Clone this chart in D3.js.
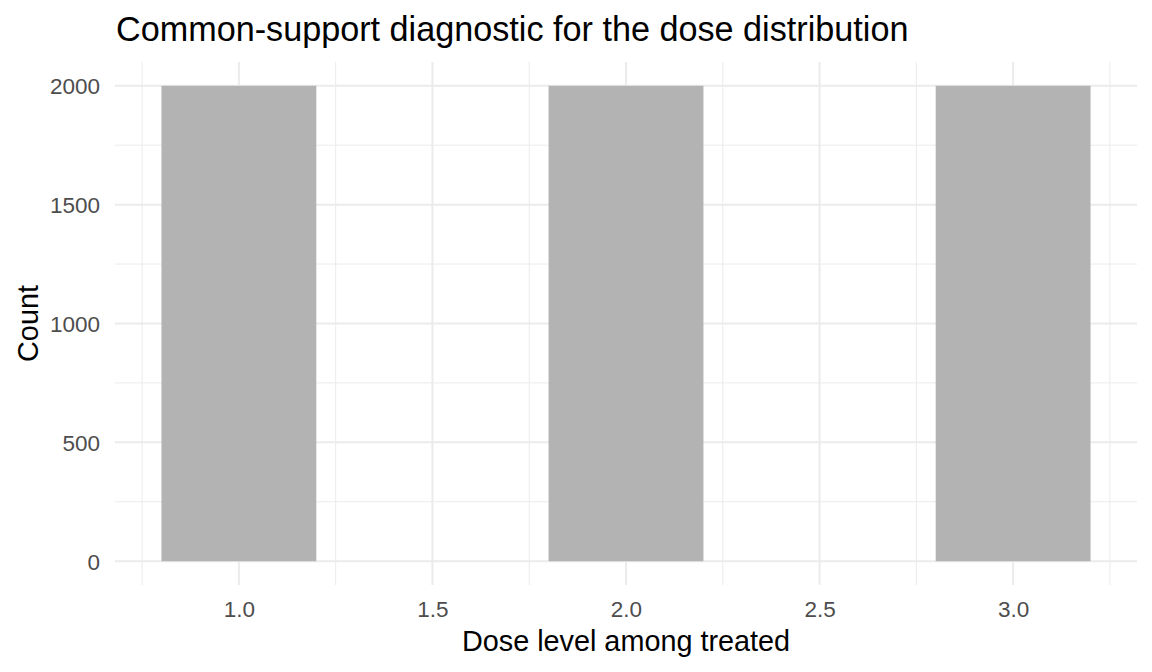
<!DOCTYPE html>
<html><head><meta charset="utf-8">
<script src="https://cdn.jsdelivr.net/npm/d3@7"></script>
<style>body{margin:0;background:#fff}svg{display:block}text{font-family:"Liberation Sans",Arial,sans-serif}</style>
</head><body>
<script>
const doseLevels = [1, 2, 3];
const counts = [2000, 2000, 2000];
const binWidth = 0.4;
const xTicks = [1.0, 1.5, 2.0, 2.5, 3.0];
const xMinor = [0.75, 1.25, 1.75, 2.25, 2.75, 3.25];
const yTicks = [0, 500, 1000, 1500, 2000];
const yMinor = [250, 750, 1250, 1750];

const W = 1152, H = 672;
const m = {left: 115, right: 15, top: 62, bottom: 87};
const svg = d3.select("body").append("svg").attr("width", W).attr("height", H);

const xmin = d3.min(doseLevels) - binWidth/2, xmax = d3.max(doseLevels) + binWidth/2;
const xpad = (xmax - xmin) * 0.05;
const x = d3.scaleLinear().domain([xmin - xpad, xmax + xpad]).range([m.left, W - m.right]);
const ymax = d3.max(counts);
const y = d3.scaleLinear().domain([-ymax*0.05, ymax*1.05]).range([H - m.bottom, m.top]);

const g = svg.append("g");
// minor grid
g.selectAll(".xm").data(xMinor).join("line")
  .attr("x1", d => x(d)).attr("x2", d => x(d)).attr("y1", m.top).attr("y2", H - m.bottom)
  .attr("stroke", "#ebebeb").attr("stroke-width", 1);
g.selectAll(".ym").data(yMinor).join("line")
  .attr("y1", d => y(d)).attr("y2", d => y(d)).attr("x1", m.left).attr("x2", W - m.right)
  .attr("stroke", "#ebebeb").attr("stroke-width", 1);
// major grid
g.selectAll(".xM").data(xTicks).join("line")
  .attr("x1", d => x(d)).attr("x2", d => x(d)).attr("y1", m.top).attr("y2", H - m.bottom)
  .attr("stroke", "#ebebeb").attr("stroke-width", 2);
g.selectAll(".yM").data(yTicks).join("line")
  .attr("y1", d => y(d)).attr("y2", d => y(d)).attr("x1", m.left).attr("x2", W - m.right)
  .attr("stroke", "#ebebeb").attr("stroke-width", 2);

// bars
svg.selectAll(".bar").data(doseLevels).join("rect")
  .attr("x", d => x(d - binWidth/2))
  .attr("width", d => x(d + binWidth/2) - x(d - binWidth/2))
  .attr("y", (d, i) => y(counts[i]))
  .attr("height", (d, i) => y(0) - y(counts[i]))
  .attr("fill", "#b3b3b3");

// axes
const xAxis = svg.append("g").attr("transform", `translate(0,${H - m.bottom})`)
  .call(d3.axisBottom(x).tickValues(xTicks).tickFormat(d3.format(".1f")).tickSize(0).tickPadding(0));
xAxis.select(".domain").remove();
xAxis.selectAll("text").attr("y", 32).attr("dy", 0).attr("fill", "#4d4d4d").attr("font-size", 22.5);

const yAxis = svg.append("g").attr("transform", `translate(${m.left},0)`)
  .call(d3.axisLeft(y).tickValues(yTicks).tickFormat(d3.format("d")).tickSize(0).tickPadding(0));
yAxis.select(".domain").remove();
yAxis.selectAll("text").attr("x", -15).attr("dy", "0.35em").attr("fill", "#4d4d4d").attr("font-size", 22.5);

svg.append("text").attr("x", (m.left + W - m.right)/2).attr("y", 651)
  .attr("text-anchor", "middle").attr("font-size", 28.8).attr("fill", "#000")
  .text("Dose level among treated");
svg.append("text").attr("transform", `translate(38,${(m.top + H - m.bottom)/2}) rotate(-90)`)
  .attr("text-anchor", "middle").attr("font-size", 28.8).attr("fill", "#000")
  .text("Count");
svg.append("text").attr("x", 116).attr("y", 41).attr("font-size", 34.2).attr("fill", "#000")
  .text("Common-support diagnostic for the dose distribution");
</script>
</body></html>
